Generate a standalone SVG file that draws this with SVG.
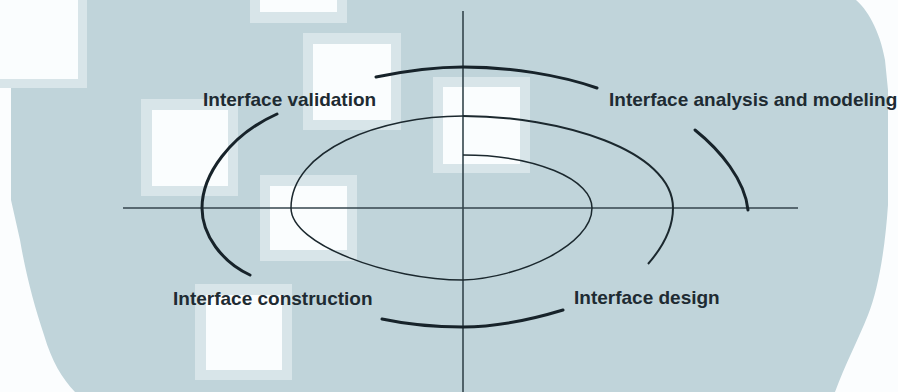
<svg xmlns="http://www.w3.org/2000/svg" width="898" height="392" viewBox="0 0 898 392">
  <style>
    .fr { fill: #d8e5e9; }
    .co { fill: #fafdfe; }
    .axis { fill: none; stroke: #34454c; stroke-width: 1.6; }
    .sp1 { fill: none; stroke: #1b282e; stroke-width: 1.5; }
    .sp2 { fill: none; stroke: #1b282e; stroke-width: 2; }
    .arc { fill: none; stroke: #17232a; stroke-width: 3; stroke-linecap: round; }
    .lbl { font-family: "Liberation Sans", Arial, sans-serif; font-weight: bold; font-size: 19px; fill: #1e2b32; }
  </style>
  <rect width="898" height="392" fill="#fbfdfe"/>
  <g id="background">
    <path d="M87 0 L856 0 C866 8 880 30 885 60 L888 90 L888 205 C885 250 878 290 868 315 C858 340 845 365 835 392 L75 392 C62 378 52 362 44 335 C34 305 26 275 20 240 L11 200 L11 88 L87 88 Z" fill="#c0d4da"/>
    <rect class="fr" x="0" y="0" width="87" height="88"/>
    <rect class="co" x="0" y="0" width="78" height="79"/>
    <rect class="fr" x="250" y="0" width="97" height="23"/>
    <rect class="co" x="260" y="0" width="77" height="12"/>
    <rect class="fr" x="303" y="33" width="98" height="97"/>
    <rect class="co" x="313" y="44" width="78" height="76"/>
    <rect class="fr" x="141" y="99" width="97" height="97"/>
    <rect class="co" x="152" y="110" width="76" height="76"/>
    <rect class="fr" x="260" y="175" width="97" height="86"/>
    <rect class="co" x="270" y="186" width="77" height="64"/>
    <rect class="fr" x="195" y="284" width="97" height="96"/>
    <rect class="co" x="206" y="295" width="76" height="75"/>
    <rect class="fr" x="433" y="77" width="97" height="96"/>
    <rect class="co" x="443" y="87" width="77" height="77"/>
  </g>
  <g id="connectors">
    <line class="axis" x1="123" y1="208" x2="798" y2="208"/>
    <line class="axis" x1="463" y1="11" x2="463" y2="392"/>
    <path class="sp1" d="M463 155 A129 53 0 0 1 592 208 C592 245 520 278 463 280 C390 280 291 245 291 208 C291 150 380 116 463 116"/>
    <path class="sp2" d="M463 116 C560 116 673 150 673 208 C673 230 662 248 648 264"/>
    <path class="arc" d="M376 77 C410 70 440 67 463 67 C510 67 560 75 597 88"/>
    <path class="arc" d="M695 130 C720 150 745 180 748 210"/>
    <path class="arc" d="M277 114 C230 135 202 175 202 208 C202 235 222 262 250 275"/>
    <path class="arc" d="M382 319 C410 325 440 327 463 327 C495 327 530 320 563 310"/>
  </g>
  <g id="node-validation"><text class="lbl" x="203" y="106">Interface validation</text></g>
  <g id="node-analysis"><text class="lbl" x="609" y="106">Interface analysis and modeling</text></g>
  <g id="node-construction"><text class="lbl" x="173" y="305">Interface construction</text></g>
  <g id="node-design"><text class="lbl" x="574" y="304">Interface design</text></g>
</svg>
